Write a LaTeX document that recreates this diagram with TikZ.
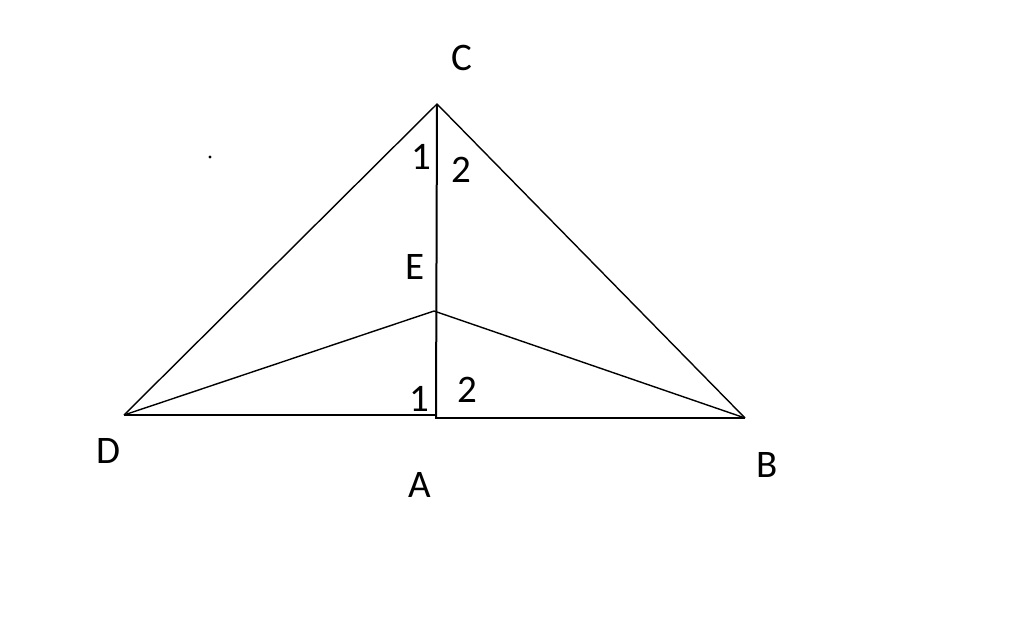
\documentclass[tikz,border=0pt]{standalone}
\usepackage{fontspec}
\setmainfont{Carlito}
\begin{document}
\begin{tikzpicture}[x=1pt,y=-1pt,
  seg/.style={line width=1.4pt,black},
  thick seg/.style={line width=2pt,black},
  lbl/.style={font=\fontsize{39}{41}\selectfont,inner sep=0pt,text=black},
  pt/.style={coordinate}]
\useasboundingbox (0,0) rectangle (1024,641);
\node[pt] (C) at (437,104) {};
\node[pt] (E) at (434,311) {};
\node[pt] (D) at (124,415) {};
\node[pt] (A) at (436,418) {};
\node[pt] (B) at (745,418) {};
\draw[seg] (D) -- (C) -- (B);
\draw[seg] (D) -- (E) -- (B);
\draw[thick seg] (C) -- (A);
\draw[thick seg] (D) -- (A |- D) -- (A) -- (B);
\node[lbl] (lC) at (462,58) {C};
\node[lbl] (lE) at (415,267) {E};
\node[lbl] (lD) at (108,451) {D};
\node[lbl] (lA) at (420,485) {A};
\node[lbl] (lB) at (767,465) {B};
\node[lbl] (c1) at (421,157) {1};
\node[lbl] (c2) at (461,170) {2};
\node[lbl] (a1) at (419,399) {1};
\node[lbl] (a2) at (467,390) {2};
\fill (210,157) circle (1.6);
\end{tikzpicture}
\end{document}
